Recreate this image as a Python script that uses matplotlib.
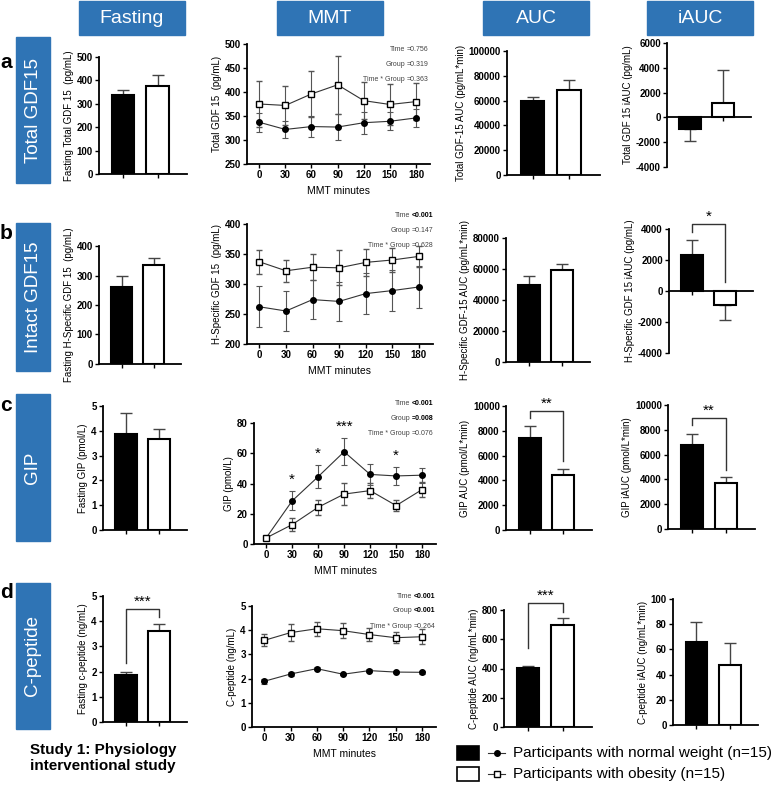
import numpy as np
import matplotlib
matplotlib.use("Agg")
import matplotlib.pyplot as plt
from matplotlib.patches import Rectangle

plt.rcParams['font.family'] = ['Liberation Sans', 'DejaVu Sans']
plt.rcParams['font.weight'] = 'bold'
plt.rcParams['axes.unicode_minus'] = False

# ---- data ----
minutes = [0, 30, 60, 90, 120, 150, 180]

# a: total GDF15
fast_total = [337, 375]
fast_total_err = [20, 50]
mmt_total_nw = [337, 322, 328, 327, 336, 339, 346]
mmt_total_nw_err = [20, 18, 22, 28, 23, 19, 18]
mmt_total_ob = [375, 372, 396, 415, 382, 374, 380]
mmt_total_ob_err = [48, 40, 48, 60, 38, 42, 38]
auc_total = [59500, 68500]
auc_total_err = [3800, 8200]
iauc_total = [-900, 1200]
iauc_total_err = [1000, 2650]

# b: intact GDF15
fast_intact = [262, 337]
fast_intact_err = [35, 21]
mmt_intact_nw = [262, 255, 274, 271, 284, 289, 295]
mmt_intact_nw_err = [34, 33, 33, 33, 34, 34, 35]
mmt_intact_ob = [337, 322, 328, 327, 336, 340, 346]
mmt_intact_ob_err = [20, 18, 22, 29, 23, 20, 17]
auc_intact = [49500, 59500]
auc_intact_err = [6000, 4000]
iauc_intact = [2300, -900]
iauc_intact_err = [1000, 1000]

# c: GIP
fast_gip = [3.87, 3.65]
fast_gip_err = [0.83, 0.42]
mmt_gip_nw = [4, 28.5, 44.5, 61, 46, 45, 45.5]
mmt_gip_nw_err = [0.8, 6.3, 7.5, 9, 7, 6, 5]
mmt_gip_ob = [4, 12.8, 24.3, 33, 35.3, 25.4, 36]
mmt_gip_ob_err = [0.8, 4.5, 5, 7.5, 5, 3.5, 5]
gip_stars = {30: '*', 60: '*', 90: '***', 150: '*'}
auc_gip = [7450, 4400]
auc_gip_err = [950, 500]
iauc_gip = [6750, 3750]
iauc_gip_err = [950, 450]

# d: C-peptide
fast_cpep = [1.87, 3.6]
fast_cpep_err = [0.13, 0.27]
mmt_cpep_nw = [1.89, 2.19, 2.41, 2.18, 2.33, 2.27, 2.26]
mmt_cpep_nw_err = [0.1, 0.08, 0.05, 0.05, 0.05, 0.05, 0.05]
mmt_cpep_ob = [3.58, 3.9, 4.06, 3.98, 3.82, 3.69, 3.73]
mmt_cpep_ob_err = [0.25, 0.35, 0.28, 0.32, 0.28, 0.22, 0.3]
auc_cpep = [405, 695]
auc_cpep_err = [12, 50]
iauc_cpep = [66, 48]
iauc_cpep_err = [15.5, 17]

W, H = 774, 788
BLUE = '#2F74B5'

fig = plt.figure(figsize=(W / 100, H / 100), dpi=100)
over = fig.add_axes([0, 0, 1, 1])
over.set_xlim(0, W)
over.set_ylim(H, 0)
over.axis('off')


def panel(box):
    x0, y0, x1, y1 = box
    ax = fig.add_axes([x0 / W, 1 - y1 / H, (x1 - x0) / W, (y1 - y0) / H])
    ax.set_facecolor('none')
    for s in ['top', 'right']:
        ax.spines[s].set_visible(False)
    for s in ['left', 'bottom']:
        ax.spines[s].set_linewidth(1.3)
    ax.tick_params(width=1, length=3, labelsize=7, pad=1.5)
    return ax


def bracket(ax, top, left, right, stars):
    ax.plot([0, 0, 1, 1], [left, top, top, right], color='#333', lw=1, clip_on=False)
    lo, hi = ax.get_ylim()
    ax.text(0.5, top, stars, ha='center', va='bottom',
            fontsize=11, fontweight='normal', clip_on=False)


def bar_panel(box, vals, errs, ylim, yticks, ylabel, zero_axis=False):
    ax = panel(box)
    x = np.arange(2)
    for i in range(2):
        e = [[0], [errs[i]]] if vals[i] >= 0 else [[errs[i]], [0]]
        ax.errorbar(x[i], vals[i], yerr=e, fmt='none', ecolor='#444',
                    elinewidth=1, capsize=4, capthick=1, zorder=1)
    ax.bar(x, vals, width=0.65, color=['black', 'white'], edgecolor='black',
           linewidth=1.5, zorder=2)
    ax.set_xlim(-0.7, 1.85)
    ax.set_xticks(x)
    ax.set_xticklabels(['', ''])
    ax.set_ylim(*ylim)
    ax.set_yticks(yticks)
    ax.set_ylabel(ylabel, fontsize=7, labelpad=2)
    if zero_axis:
        ax.spines['bottom'].set_position(('data', 0))
    return ax


def mmt_panel(box, nw, nw_err, ob, ob_err, ylim, yticks, ylabel):
    ax = panel(box)
    kw = dict(color='#333', lw=0.8, ecolor='#555', elinewidth=0.8, capsize=2.5, capthick=0.8)
    ax.errorbar(minutes, nw, yerr=nw_err, marker='o', ms=4, mfc='black', mec='black', zorder=3, **kw)
    ax.errorbar(minutes, ob, yerr=ob_err, marker='s', ms=5, mfc='white', mec='black', mew=1, zorder=3, **kw)
    ax.set_xlim(-14, 196)
    ax.set_xticks(minutes)
    ax.set_ylim(*ylim)
    ax.set_yticks(yticks)
    ax.set_ylabel(ylabel, fontsize=7, labelpad=2)
    ax.set_xlabel('MMT minutes', fontsize=7.5, labelpad=4)
    return ax


def stats(x, y, rows):
    for i, (lab, val, bold) in enumerate(rows):
        yy = y + i * 15
        over.text(x - 2, yy, lab, ha='right', va='center', fontsize=5, fontweight='normal', color='#444')
        over.text(x, yy, val, ha='left', va='center', fontsize=5,
                  fontweight='bold' if bold else 'normal', color='black' if bold else '#444')


# ---- row a ----
bar_panel((99, 57, 187, 174), fast_total, fast_total_err, (0, 500), range(0, 501, 100),
          'Fasting Total GDF 15  (pg/mL)')
mmt_panel((247, 44, 430, 164), mmt_total_nw, mmt_total_nw_err, mmt_total_ob, mmt_total_ob_err,
          (250, 500), range(250, 501, 50), 'Total GDF 15  (pg/mL)')
bar_panel((507, 51, 600, 175), auc_total, auc_total_err, (0, 100000), range(0, 100001, 20000),
          'Total GDF-15 AUC (pg/mL*min)')
bar_panel((667, 43, 751, 167), iauc_total, iauc_total_err, (-4000, 6000), range(-4000, 6001, 2000),
          'Total GDF 15 iAUC (pg/mL)', zero_axis=True)
stats(407, 49, [('Time', '=0.756', False), ('Group', '=0.319', False), ('Time * Group', '=0.363', False)])

# ---- row b ----
bar_panel((99, 246, 181, 364), fast_intact, fast_intact_err, (0, 400), range(0, 401, 100),
          'Fasting H-Specific GDF 15  (pg/mL)')
mmt_panel((247, 224, 433, 344), mmt_intact_nw, mmt_intact_nw_err, mmt_intact_ob, mmt_intact_ob_err,
          (200, 400), range(200, 401, 50), 'H-Specific GDF 15  (pg/mL)')
bar_panel((506, 238, 590, 362), auc_intact, auc_intact_err, (0, 80000), range(0, 80001, 20000),
          'H-Specific GDF-15 AUC (pg/mL*min)')
ax = bar_panel((669, 229, 753, 353), iauc_intact, iauc_intact_err, (-4000, 4000), range(-4000, 4001, 2000),
               'H-Specific GDF 15 iAUC (pg/mL)', zero_axis=True)
bracket(ax, 4320, 3780, 600, '*')
stats(412, 215, [('Time', '<0.001', True), ('Group', '=0.147', False), ('Time * Group', '=0.628', False)])

# ---- row c ----
bar_panel((103, 406, 187, 530), fast_gip, fast_gip_err, (0, 5), range(0, 6),
          'Fasting GIP (pmol/L)')
ax = mmt_panel((254, 423, 436, 544), mmt_gip_nw, mmt_gip_nw_err, mmt_gip_ob, mmt_gip_ob_err,
               (0, 80), range(0, 81, 20), 'GIP (pmol/L)')
for m, s in gip_stars.items():
    i = minutes.index(m)
    ax.text(m, mmt_gip_nw[i] + mmt_gip_nw_err[i] + 3, s, ha='center', va='bottom',
            fontsize=11, fontweight='normal', clip_on=False)
ax = bar_panel((506, 406, 592, 530), auc_gip, auc_gip_err, (0, 10000), range(0, 10001, 2000),
               'GIP AUC (pmol/L*min)')
bracket(ax, 9600, 9030, 5560, '**')
ax = bar_panel((668, 405, 755, 529), iauc_gip, iauc_gip_err, (0, 10000), range(0, 10001, 2000),
               'GIP iAUC (pmol/L*min)')
bracket(ax, 8950, 8390, 4760, '**')
stats(412, 403, [('Time', '<0.001', True), ('Group', '=0.008', True), ('Time * Group', '=0.076', False)])

# ---- row d ----
ax = bar_panel((103, 596, 187, 722), fast_cpep, fast_cpep_err, (0, 5), range(0, 6),
               'Fasting c-peptide (ng/mL)')
bracket(ax, 4.48, 2.34, 4.17, '***')
mmt_panel((252, 606, 436, 727), mmt_cpep_nw, mmt_cpep_nw_err, mmt_cpep_ob, mmt_cpep_ob_err,
          (0, 5), range(0, 6), 'C-peptide (ng/mL)')
ax = bar_panel((504, 610, 592, 727), auc_cpep, auc_cpep_err, (0, 800), range(0, 801, 200),
               'C-peptide AUC (ng/mL*min)')
bracket(ax, 848, 540, 786, '***')
bar_panel((673, 599, 758, 725), iauc_cpep, iauc_cpep_err, (0, 100), range(0, 101, 20),
          'C-peptide iAUC (ng/mL*min)')
stats(414, 596, [('Time', '<0.001', True), ('Group', '<0.001', True), ('Time * Group', '=0.264', False)])

# ---- headers and row labels ----
for x0, x1, name in [(79, 185, 'Fasting'), (277, 383, 'MMT'), (483, 589, 'AUC'), (647, 753, 'iAUC')]:
    over.add_patch(Rectangle((x0, 1), x1 - x0, 34, color=BLUE))
    over.text((x0 + x1) / 2, 18, name, ha='center', va='center', color='white',
              fontsize=14, fontweight='normal')

for y0, y1, name, letter, ly in [(37, 183, 'Total GDF15', 'a', 62), (223, 371, 'Intact GDF15', 'b', 233),
                                 (394, 541, 'GIP', 'c', 405), (583, 729, 'C-peptide', 'd', 593)]:
    over.add_patch(Rectangle((16, y0), 34, y1 - y0, color=BLUE))
    over.text(33, (y0 + y1) / 2, name, ha='center', va='center', color='white', rotation=90,
              fontsize=13.5, fontweight='normal')
    over.text(0, ly, letter, ha='left', va='center', fontsize=15, fontweight='heavy')

over.text(30, 758, 'Study 1: Physiology\ninterventional study', ha='left', va='center',
          fontsize=11, fontweight='bold', linespacing=1.25)

# ---- legend ----
over.add_patch(Rectangle((457, 746), 22, 14, facecolor='black', edgecolor='black', lw=1.2))
over.add_patch(Rectangle((457, 767), 22, 14, facecolor='white', edgecolor='black', lw=1.2))
over.plot([488, 505], [753, 753], color='#333', lw=0.8)
over.plot([496.5], [753], marker='o', ms=4, color='black')
over.plot([488, 505], [774, 774], color='#333', lw=0.8)
over.plot([496.5], [774], marker='s', ms=5, mfc='white', mec='black', mew=1)
over.text(513, 753, 'Participants with normal weight (n=15)', ha='left', va='center',
          fontsize=11, fontweight='normal')
over.text(513, 774, 'Participants with obesity (n=15)', ha='left', va='center',
          fontsize=11, fontweight='normal')

fig.savefig('out.png', dpi=100)
